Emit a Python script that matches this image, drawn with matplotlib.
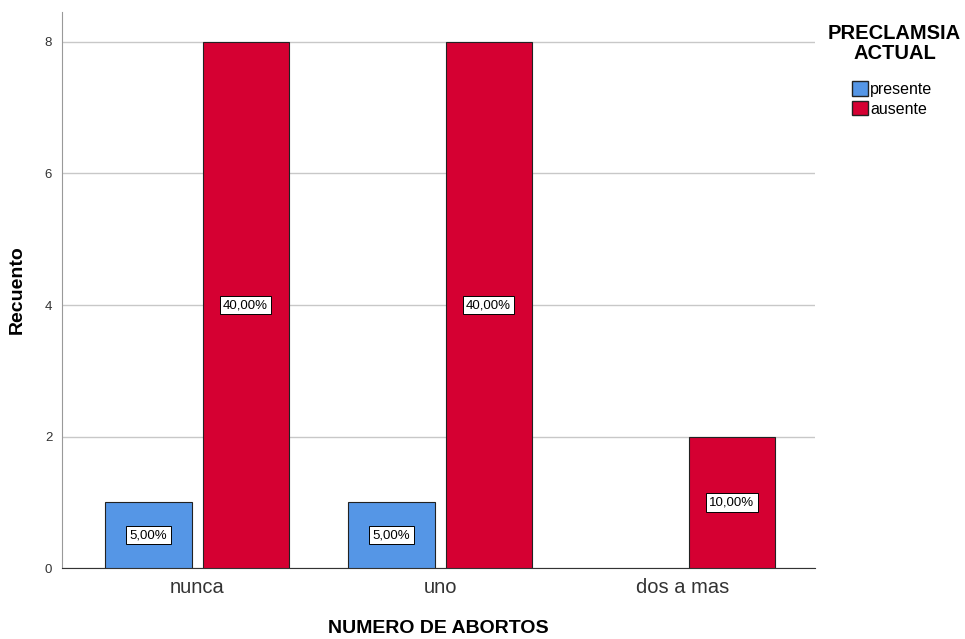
import numpy as np
import matplotlib.pyplot as plt
from matplotlib.patches import Patch

plt.rcParams['font.family'] = ['Liberation Sans', 'DejaVu Sans']

# Data
categories = ['nunca', 'uno', 'dos a mas']
presente = [1, 1, 0]
ausente = [8, 8, 2]
pct_presente = ['5,00%', '5,00%', None]
pct_ausente = ['40,00%', '40,00%', '10,00%']

blue = '#5596E6'
red = '#D50032'

fig = plt.figure(figsize=(9.65, 6.39), dpi=100)
ax = fig.add_axes([0.0642, 0.1111, 0.7804, 0.8701])

x = np.arange(len(categories))
w = 0.355
off = 0.2

box = dict(boxstyle='square,pad=0.25', fc='white', ec='black', lw=0.7)
for i in range(len(categories)):
    if presente[i] > 0:
        ax.bar(x[i] - off, presente[i], w, color=blue, edgecolor='#222222', linewidth=0.8, zorder=3)
        ax.text(x[i] - off, presente[i] / 2, pct_presente[i], ha='center', va='center',
                fontsize=9.5, bbox=box, zorder=4)
    ax.bar(x[i] + off, ausente[i], w, color=red, edgecolor='#222222', linewidth=0.8, zorder=3)
    ax.text(x[i] + off, ausente[i] / 2, pct_ausente[i], ha='center', va='center',
            fontsize=9.5, bbox=box, zorder=4)

ax.set_xlim(-0.556, 2.543)
ax.set_ylim(0, 8.456)
ax.set_yticks([0, 2, 4, 6, 8])
ax.set_xticks(x)
ax.set_xticklabels(categories, fontsize=14.5, color='#333333')
ax.tick_params(axis='x', length=0, pad=7)
ax.tick_params(axis='y', length=0, labelsize=9.5, colors='#333333', pad=7)
ax.yaxis.grid(True, color='#c8c8c8', linewidth=1, zorder=0)

for s in ['top', 'right']:
    ax.spines[s].set_visible(False)
ax.spines['left'].set_color('#999999')
ax.spines['bottom'].set_color('#333333')

ax.set_ylabel('Recuento', fontsize=14, fontweight='bold', labelpad=14)
ax.set_xlabel('NUMERO DE ABORTOS', fontsize=14, fontweight='bold', labelpad=17)

fig.text(0.927, 0.932, 'PRECLAMSIA\nACTUAL', ha='center', va='center', fontsize=14.5,
         fontweight='bold', linespacing=1.05)
handles = [Patch(facecolor=blue, edgecolor='#222222', label='presente'),
           Patch(facecolor=red, edgecolor='#222222', label='ausente')]
fig.legend(handles=handles, loc='upper left', bbox_to_anchor=(0.8745, 0.885), frameon=False,
           fontsize=11.5, handlelength=1.0, handleheight=1.0, handletextpad=0.15,
           labelspacing=0.25, borderpad=0)

fig.savefig('out.png', dpi=100)
